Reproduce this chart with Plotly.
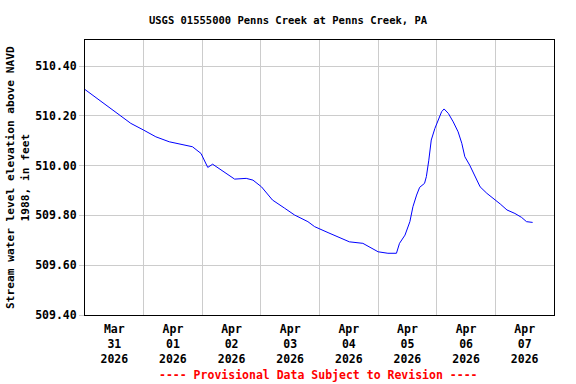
import plotly.graph_objects as go

times = [
    "2026-03-31 00:00", "2026-03-31 05:45", "2026-03-31 10:45", "2026-03-31 14:00",
    "2026-03-31 18:45", "2026-04-01 00:00", "2026-04-01 05:00", "2026-04-01 10:30",
    "2026-04-01 14:45", "2026-04-01 20:00", "2026-04-01 23:30", "2026-04-02 02:15",
    "2026-04-02 04:15", "2026-04-02 08:30", "2026-04-02 13:15", "2026-04-02 18:00",
    "2026-04-02 20:45", "2026-04-03 00:15", "2026-04-03 04:45", "2026-04-03 09:45",
    "2026-04-03 13:45", "2026-04-03 19:15", "2026-04-03 22:00", "2026-04-04 03:30",
    "2026-04-04 08:15", "2026-04-04 12:15", "2026-04-04 17:45", "2026-04-04 20:30",
    "2026-04-05 00:00", "2026-04-05 04:00", "2026-04-05 07:30", "2026-04-05 08:45",
    "2026-04-05 11:00", "2026-04-05 13:00", "2026-04-05 14:15", "2026-04-05 15:45",
    "2026-04-05 17:00", "2026-04-05 19:00", "2026-04-05 19:45", "2026-04-05 20:45",
    "2026-04-05 21:45", "2026-04-05 23:15", "2026-04-06 00:30", "2026-04-06 02:00",
    "2026-04-06 03:00", "2026-04-06 04:45", "2026-04-06 06:45", "2026-04-06 08:45",
    "2026-04-06 10:15", "2026-04-06 11:30", "2026-04-06 13:30", "2026-04-06 15:45",
    "2026-04-06 17:45", "2026-04-06 20:30", "2026-04-06 23:15", "2026-04-07 02:00",
    "2026-04-07 04:45", "2026-04-07 08:00", "2026-04-07 10:45", "2026-04-07 12:45",
    "2026-04-07 15:15",
]
stage = [
    510.306, 510.264, 510.226, 510.203,
    510.170, 510.143, 510.116, 510.096,
    510.087, 510.076, 510.049, 509.993,
    510.006, 509.976, 509.946, 509.949,
    509.942, 509.915, 509.862, 509.829,
    509.802, 509.775, 509.755, 509.731,
    509.712, 509.694, 509.688, 509.674,
    509.654, 509.648, 509.648, 509.688,
    509.721, 509.775, 509.835, 509.882,
    509.913, 509.929, 509.956, 510.022,
    510.103, 510.150, 510.183, 510.217,
    510.228, 510.210, 510.176, 510.136,
    510.090, 510.036, 510.002, 509.956,
    509.915, 509.889, 509.869, 509.846,
    509.822, 509.808, 509.792, 509.775,
    509.772,
]

x_tick_vals = ["2026-03-31 12:00", "2026-04-01 12:00", "2026-04-02 12:00", "2026-04-03 12:00",
               "2026-04-04 12:00", "2026-04-05 12:00", "2026-04-06 12:00", "2026-04-07 12:00"]
x_tick_text = ["Mar<br>31<br>2026", "Apr<br>01<br>2026", "Apr<br>02<br>2026", "Apr<br>03<br>2026",
               "Apr<br>04<br>2026", "Apr<br>05<br>2026", "Apr<br>06<br>2026", "Apr<br>07<br>2026"]
y_tick_vals = [509.40, 509.60, 509.80, 510.00, 510.20, 510.40]

FONT = "DejaVu Sans Mono"

fig = go.Figure()
fig.add_trace(go.Scatter(x=times, y=stage, mode="lines",
                         line=dict(color="#0000ff", width=1), showlegend=False))

fig.update_layout(
    width=576, height=384,
    margin=dict(l=85, r=22, t=40, b=69),
    paper_bgcolor="white", plot_bgcolor="white",
    font=dict(family=FONT, color="black"),
    title=dict(text="<b>USGS 01555000 Penns Creek at Penns Creek, PA</b>",
               x=0.5, xanchor="center", y=1 - 20 / 384, yanchor="middle",
               font=dict(family=FONT, size=10.5, color="black")),
    xaxis=dict(
        type="date",
        range=["2026-03-31 00:00", "2026-04-08 00:00"],
        tickmode="array", tickvals=x_tick_vals,
        ticktext=["<b>" + t.replace("<br>", "</b><br><b>") + "</b>" for t in x_tick_text],
        showgrid=False, ticks="", tickfont=dict(family=FONT, size=11.5, color="black"),
        ticklabelstandoff=3,
        showline=True, linecolor="black", linewidth=1, mirror=True,
        minor=dict(tick0="2026-03-31", dtick=86400000, showgrid=True,
                   gridcolor="#cccccc", gridwidth=1, ticks=""),
        zeroline=False,
    ),
    yaxis=dict(
        range=[509.40, 510.505],
        tickmode="array", tickvals=y_tick_vals,
        ticktext=["<b>%.2f</b>" % v for v in y_tick_vals],
        showgrid=True, gridcolor="#cccccc", gridwidth=1,
        ticks="outside", ticklen=5, tickcolor="#cccccc",
        tickfont=dict(family=FONT, size=11.5, color="black"),
        showline=True, linecolor="black", linewidth=1, mirror=True,
        zeroline=False,
    ),
    annotations=[
        dict(text="<b>Stream water level elevation above NAVD<br>1988, in feet</b>",
             textangle=-90, xref="paper", yref="paper",
             x=-0.144, y=0.5, xanchor="center", yanchor="middle",
             showarrow=False, font=dict(family=FONT, size=11.2, color="black")),
        dict(text="<b>---- Provisional Data Subject to Revision ----</b>",
             xref="paper", yref="paper", x=0.497, y=-0.218,
             xanchor="center", yanchor="middle", showarrow=False,
             font=dict(family=FONT, size=11.5, color="#ff0000")),
    ],
)

fig.write_html("out.html", config={"displayModeBar": False},
               post_script="document.body.style.margin='0';")
